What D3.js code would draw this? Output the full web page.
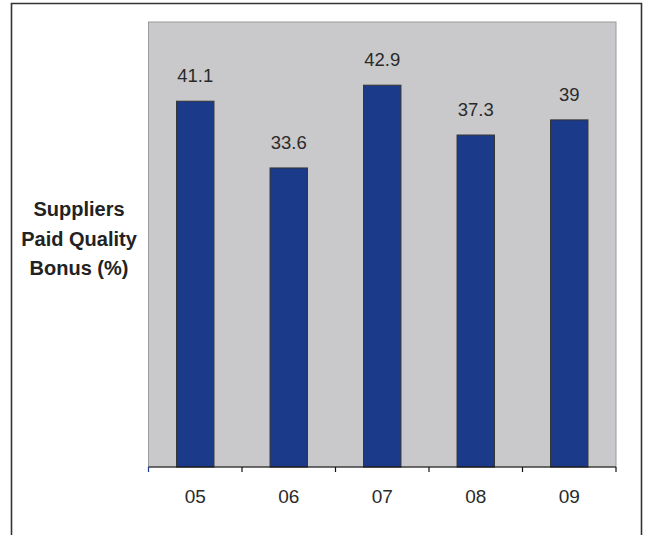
<!DOCTYPE html>
<html>
<head>
<meta charset="utf-8">
<script src="https://cdn.jsdelivr.net/npm/d3@7"></script>
<style>
  body { margin: 0; background: #fff; }
  svg { display: block; font-family: "Liberation Sans", Arial, sans-serif; }
</style>
</head>
<body>
<div id="chart"></div>
<script>
// data
var years = ["05", "06", "07", "08", "09"];
var bonusPct = [41.1, 33.6, 42.9, 37.3, 39];
var labels = ["41.1", "33.6", "42.9", "37.3", "39"];
var titleLines = ["Suppliers", "Paid Quality", "Bonus (%)"];

var W = 645, H = 535;
var margin = {top: 22, right: 29, bottom: 68, left: 148.5};
var width = W - margin.left - margin.right,
    height = H - margin.top - margin.bottom;

var svg = d3.select("#chart").append("svg")
    .attr("width", W)
    .attr("height", H);

// outer frame (no bottom edge visible)
svg.append("path")
    .attr("d", "M11.5," + H + "V3.5H641.5V" + H)
    .attr("fill", "none")
    .attr("stroke", "#333")
    .attr("stroke-width", 1.6);

var g = svg.append("g")
    .attr("transform", "translate(" + margin.left + "," + margin.top + ")");

var x = d3.scaleBand().domain(years).range([0, width]).paddingInner(0.6).paddingOuter(0.3);
var y = d3.scaleLinear().domain([0, 50]).range([height, 0]);

// plot background
g.append("rect")
    .attr("x", 0).attr("y", 0)
    .attr("width", width).attr("height", height)
    .attr("fill", "#c9c9cb")
    .attr("stroke", "#9a9a9a")
    .attr("stroke-width", 1);

g.selectAll(".bar")
    .data(bonusPct)
    .enter().append("rect")
    .attr("class", "bar")
    .attr("x", function(d, i){ return x(years[i]); })
    .attr("y", function(d){ return y(d); })
    .attr("width", x.bandwidth())
    .attr("height", function(d){ return height - y(d); })
    .attr("fill", "#1b3a8a")
    .attr("stroke", "#333")
    .attr("stroke-width", 1);

g.selectAll(".val")
    .data(bonusPct)
    .enter().append("text")
    .attr("class", "val")
    .attr("x", function(d, i){ return x(years[i]) + x.bandwidth() / 2; })
    .attr("y", function(d){ return y(d) - 19; })
    .attr("text-anchor", "middle")
    .style("font-size", "18.5px")
    .style("fill", "#2a2a2a")
    .text(function(d, i){ return labels[i]; });

// x axis: ticks at band boundaries
var xLine = d3.scaleLinear().domain([0, years.length]).range([0, width]);
var axis = g.append("g")
    .attr("class", "x axis")
    .attr("transform", "translate(0," + height + ")");

axis.append("line")
    .attr("x1", 0).attr("x2", width)
    .attr("stroke", "#111").attr("stroke-width", 1.2);

axis.selectAll(".tick")
    .data(d3.range(years.length + 1))
    .enter().append("line")
    .attr("class", "tick")
    .attr("x1", function(d){ return xLine(d); })
    .attr("x2", function(d){ return xLine(d); })
    .attr("y1", 0).attr("y2", 5)
    .attr("stroke", function(d){ return d === 0 ? "#1b3a8a" : "#111"; })
    .attr("stroke-width", 1.2);

axis.selectAll(".lbl")
    .data(years)
    .enter().append("text")
    .attr("class", "lbl")
    .attr("x", function(d){ return x(d) + x.bandwidth() / 2; })
    .attr("y", 36)
    .attr("text-anchor", "middle")
    .style("font-size", "19px")
    .style("fill", "#2a2a2a")
    .text(function(d){ return d; });

// y title
svg.append("g").selectAll("text")
    .data(titleLines)
    .enter().append("text")
    .attr("x", 79)
    .attr("y", function(d, i){ return 216 + i * 29.5; })
    .attr("text-anchor", "middle")
    .style("font-size", "20px")
    .style("font-weight", "bold")
    .style("fill", "#222")
    .text(function(d){ return d; });
</script>
</body>
</html>
